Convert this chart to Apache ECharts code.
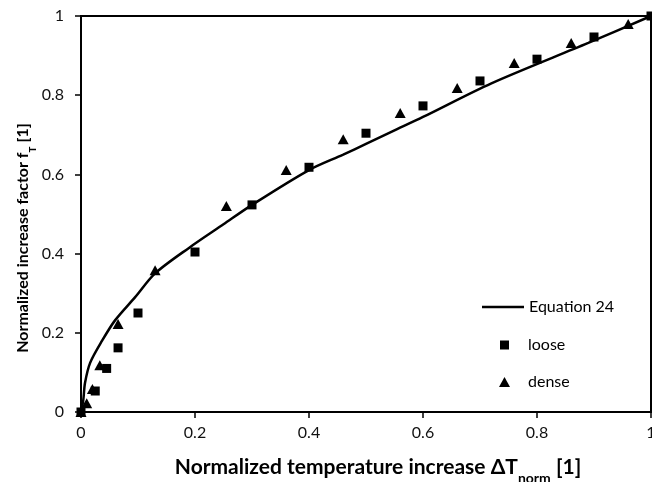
<!DOCTYPE html>
<html>
<head>
<meta charset="utf-8">
<script src="https://cdn.jsdelivr.net/npm/echarts@6/dist/echarts.min.js"></script>
<style>
  html, body { margin: 0; padding: 0; background: #fff; }
  #chart { width: 652px; height: 482px; }
</style>
</head>
<body>
<div id="chart"></div>
<script>
// Equation 24 curve, sampled points (x = ΔT_norm, y = f_T)
const curveX = [0, 0.004, 0.007, 0.016, 0.037, 0.06, 0.095, 0.13, 0.19, 0.25, 0.3, 0.4, 0.46, 0.5, 0.55, 0.6, 0.72, 0.89, 1];
const curveY = [0, 0.03, 0.073, 0.124, 0.18, 0.232, 0.29, 0.35, 0.415, 0.474, 0.523, 0.611, 0.65, 0.677, 0.711, 0.745, 0.83, 0.932, 1];

// Measured points, loose packing
const looseX = [0, 0.025, 0.045, 0.065, 0.1, 0.2, 0.3, 0.4, 0.5, 0.6, 0.7, 0.8, 0.9, 1];
const looseY = [0, 0.053, 0.11, 0.162, 0.25, 0.404, 0.523, 0.618, 0.704, 0.773, 0.836, 0.891, 0.947, 1];

// Measured points, dense packing
const denseX = [0, 0.01, 0.02, 0.033, 0.065, 0.13, 0.255, 0.36, 0.46, 0.56, 0.66, 0.76, 0.86, 0.96];
const denseY = [0, 0.022, 0.058, 0.118, 0.222, 0.358, 0.52, 0.611, 0.689, 0.755, 0.818, 0.881, 0.932, 0.98];

const pairs = (xs, ys) => xs.map((x, i) => [x, ys[i]]);

const FONT = 'Lato';
const chart = echarts.init(document.getElementById('chart'), null, { renderer: 'canvas' });

const axisCommon = {
  type: 'value',
  min: 0,
  max: 1,
  interval: 0.2,
  axisLine: { show: true, onZero: false, lineStyle: { color: '#000', width: 2 } },
  axisTick: { show: true, inside: false, length: 6, lineStyle: { color: '#000', width: 1.5 } },
  splitLine: { show: false },
  axisLabel: { color: '#111', fontSize: 16, fontFamily: FONT },
  nameLocation: 'middle'
};

const titleRich = (size) => ({
  a: { fontFamily: FONT, fontWeight: 'bold', fontSize: size, color: '#000' },
  s: { fontFamily: FONT, fontWeight: 'bold', fontSize: Math.round(size * 0.65), color: '#000', verticalAlign: 'bottom', padding: [0, 0, -7, 0] }
});

const legendText = (pad) => ({ fontFamily: FONT, fontSize: 16, color: '#000', padding: [0, 0, 0, pad] });

chart.setOption({
  animation: false,
  backgroundColor: '#fff',
  grid: {
    left: 81, right: 1, top: 16, bottom: 70,
    outerBoundsMode: 'none', containLabel: false,
    show: true, borderColor: '#000', borderWidth: 2
  },
  xAxis: Object.assign({}, axisCommon, {
    axisLabel: Object.assign({}, axisCommon.axisLabel, { margin: 13 }),
    name: '{a|Normalized temperature increase ΔT}{s|norm}{a| [1]}',
    nameGap: 45,
    nameTextStyle: { rich: titleRich(21), padding: [0, 0, 0, 24] }
  }),
  yAxis: Object.assign({}, axisCommon, {
    axisLabel: Object.assign({}, axisCommon.axisLabel, { margin: 17 }),
    name: '{a|Normalized increase factor f}{s|T}{a| [1]}',
    nameGap: 50,
    nameMoveOverlap: false,
    nameTextStyle: { rich: titleRich(16), padding: [0, 48, 0, 0] }
  }),
  legend: [
    {
      data: [{ name: 'Equation 24', icon: 'rect' }],
      left: 477, top: 294, itemWidth: 42, itemHeight: 2.5, textStyle: legendText(0)
    },
    { data: ['loose'], left: 495, top: 332, itemWidth: 9, itemHeight: 9, textStyle: legendText(14) },
    { data: ['dense'], left: 494, top: 369, itemWidth: 11, itemHeight: 10, textStyle: legendText(13) }
  ],
  series: [
    {
      name: 'Equation 24',
      type: 'line',
      data: pairs(curveX, curveY),
      smooth: 0.3,
      symbol: 'none',
      lineStyle: { color: '#000', width: 2.5 },
      itemStyle: { color: '#000' },
      z: 3
    },
    {
      name: 'loose',
      type: 'scatter',
      data: pairs(looseX, looseY),
      symbol: 'rect',
      symbolSize: 9,
      itemStyle: { color: '#000', opacity: 1 },
      z: 4
    },
    {
      name: 'dense',
      type: 'scatter',
      data: pairs(denseX, denseY),
      symbol: 'triangle',
      symbolSize: [11, 10],
      itemStyle: { color: '#000', opacity: 1 },
      z: 4
    }
  ]
});
</script>
</body>
</html>
